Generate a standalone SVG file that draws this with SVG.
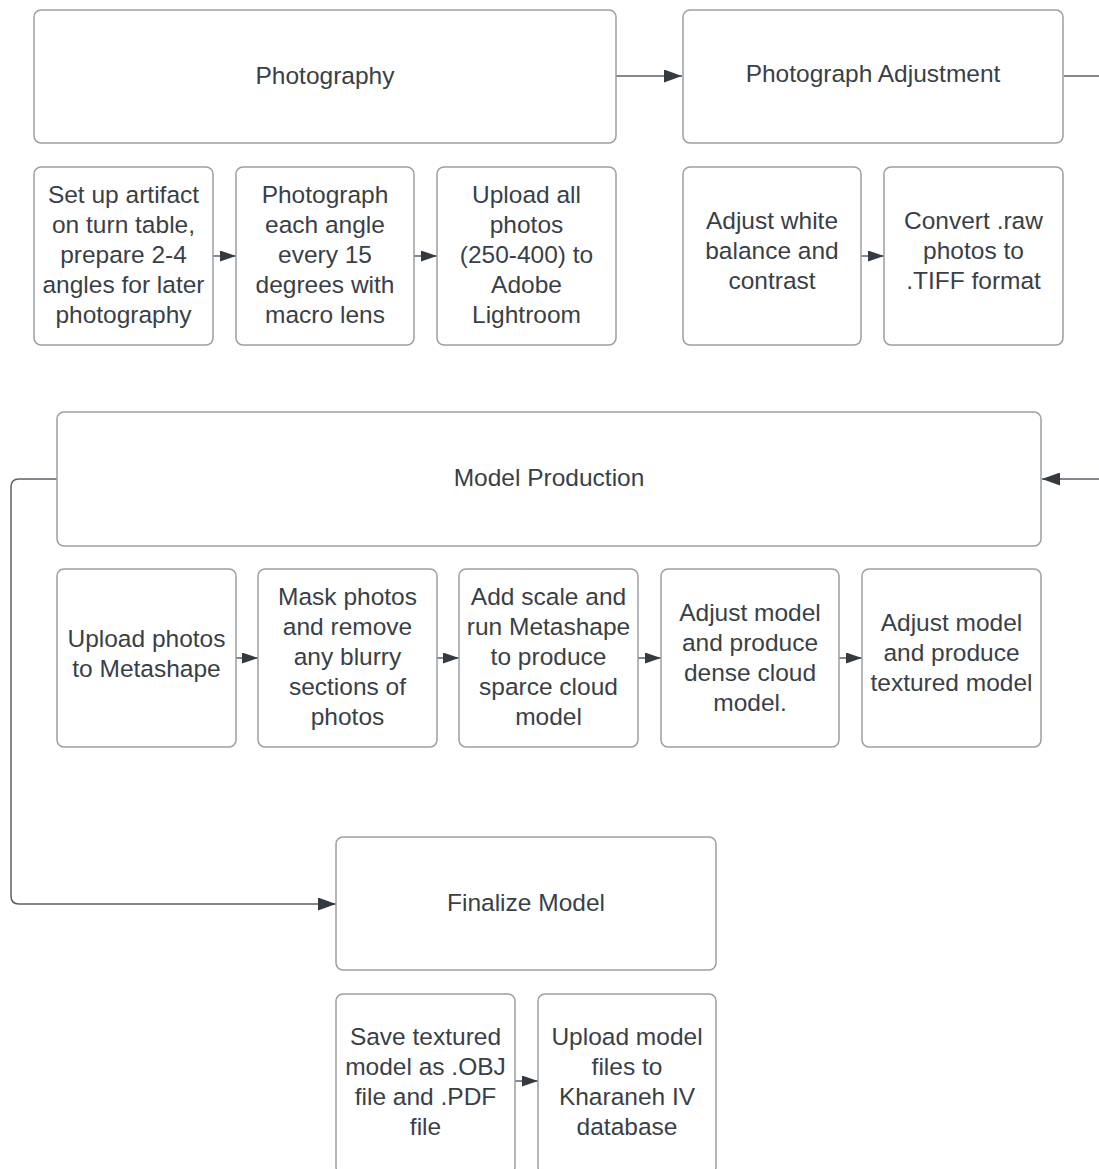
<svg xmlns="http://www.w3.org/2000/svg" width="1099" height="1169" viewBox="0 0 1099 1169">
<defs>
<style>
.box{fill:#ffffff;stroke:#9a9ea5;stroke-width:1.5}
.t{font-family:"Liberation Sans",Arial,sans-serif;font-size:24.5px;fill:#3a3f47;text-anchor:middle}
.c{fill:none;stroke:#5c6068;stroke-width:1.5}
</style>
<marker id="ah" markerUnits="userSpaceOnUse" markerWidth="18" markerHeight="13" refX="18" refY="6.5" orient="auto">
<path d="M0,0 L18,6.5 L0,13 Z" fill="#343a42"/>
</marker>
<marker id="as" markerUnits="userSpaceOnUse" markerWidth="16" markerHeight="11" refX="16" refY="5.5" orient="auto">
<path d="M0,0 L16,5.5 L0,11 Z" fill="#343a42"/>
</marker>
</defs>
<rect width="1099" height="1169" fill="#ffffff"/>
<g id="connectors">
<path class="c" d="M616,76 H682" marker-end="url(#ah)"/>
<path class="c" d="M1064,76 H1115 V479 H1042" marker-end="url(#ah)"/>
<path class="c" d="M57,479 H19 Q11,479 11,487 V896 Q11,904 19,904 H336" marker-end="url(#ah)"/>
<path class="c" d="M213,256 H236" marker-end="url(#as)"/>
<path class="c" d="M414,256 H437" marker-end="url(#as)"/>
<path class="c" d="M861,256 H884" marker-end="url(#as)"/>
<path class="c" d="M236,658 H258" marker-end="url(#as)"/>
<path class="c" d="M437,658 H459" marker-end="url(#as)"/>
<path class="c" d="M638,658 H661" marker-end="url(#as)"/>
<path class="c" d="M839,658 H862" marker-end="url(#as)"/>
<path class="c" d="M515,1081 H538" marker-end="url(#as)"/>
</g>
<g id="photography"><rect class="box" x="34" y="10" width="582" height="133" rx="7"/><text class="t" x="325" y="84">Photography</text></g>
<g id="photograph-adjustment"><rect class="box" x="683" y="10" width="380" height="133" rx="7"/><text class="t" x="873" y="82">Photograph Adjustment</text></g>
<g id="setup"><rect class="box" x="34" y="167" width="179" height="178" rx="7"/><text class="t" x="123.5" y="203">Set up artifact</text><text class="t" x="123.5" y="233">on turn table,</text><text class="t" x="123.5" y="263">prepare 2-4</text><text class="t" x="123.5" y="293">angles for later</text><text class="t" x="123.5" y="323">photography</text></g>
<g id="photograph-angle"><rect class="box" x="236" y="167" width="178" height="178" rx="7"/><text class="t" x="325" y="203">Photograph</text><text class="t" x="325" y="233">each angle</text><text class="t" x="325" y="263">every 15</text><text class="t" x="325" y="293">degrees with</text><text class="t" x="325" y="323">macro lens</text></g>
<g id="upload-lightroom"><rect class="box" x="437" y="167" width="179" height="178" rx="7"/><text class="t" x="526.5" y="203">Upload all</text><text class="t" x="526.5" y="233">photos</text><text class="t" x="526.5" y="263">(250-400) to</text><text class="t" x="526.5" y="293">Adobe</text><text class="t" x="526.5" y="323">Lightroom</text></g>
<g id="white-balance"><rect class="box" x="683" y="167" width="178" height="178" rx="7"/><text class="t" x="772" y="229">Adjust white</text><text class="t" x="772" y="259">balance and</text><text class="t" x="772" y="289">contrast</text></g>
<g id="convert-tiff"><rect class="box" x="884" y="167" width="179" height="178" rx="7"/><text class="t" x="973.5" y="229">Convert .raw</text><text class="t" x="973.5" y="259">photos to</text><text class="t" x="973.5" y="289">.TIFF format</text></g>
<g id="model-production"><rect class="box" x="57" y="412" width="984" height="134" rx="7"/><text class="t" x="549" y="486">Model Production</text></g>
<g id="upload-metashape"><rect class="box" x="57" y="569" width="179" height="178" rx="7"/><text class="t" x="146.5" y="647">Upload photos</text><text class="t" x="146.5" y="677">to Metashape</text></g>
<g id="mask-photos"><rect class="box" x="258" y="569" width="179" height="178" rx="7"/><text class="t" x="347.5" y="605">Mask photos</text><text class="t" x="347.5" y="635">and remove</text><text class="t" x="347.5" y="665">any blurry</text><text class="t" x="347.5" y="695">sections of</text><text class="t" x="347.5" y="725">photos</text></g>
<g id="sparce-cloud"><rect class="box" x="459" y="569" width="179" height="178" rx="7"/><text class="t" x="548.5" y="605">Add scale and</text><text class="t" x="548.5" y="635">run Metashape</text><text class="t" x="548.5" y="665">to produce</text><text class="t" x="548.5" y="695">sparce cloud</text><text class="t" x="548.5" y="725">model</text></g>
<g id="dense-cloud"><rect class="box" x="661" y="569" width="178" height="178" rx="7"/><text class="t" x="750" y="621">Adjust model</text><text class="t" x="750" y="651">and produce</text><text class="t" x="750" y="681">dense cloud</text><text class="t" x="750" y="711">model.</text></g>
<g id="textured-model"><rect class="box" x="862" y="569" width="179" height="178" rx="7"/><text class="t" x="951.5" y="631">Adjust model</text><text class="t" x="951.5" y="661">and produce</text><text class="t" x="951.5" y="691">textured model</text></g>
<g id="finalize-model"><rect class="box" x="336" y="837" width="380" height="133" rx="7"/><text class="t" x="526" y="911">Finalize Model</text></g>
<g id="save-obj"><rect class="box" x="336" y="994" width="179" height="180" rx="7"/><text class="t" x="425.5" y="1045">Save textured</text><text class="t" x="425.5" y="1075">model as .OBJ</text><text class="t" x="425.5" y="1105">file and .PDF</text><text class="t" x="425.5" y="1135">file</text></g>
<g id="upload-database"><rect class="box" x="538" y="994" width="178" height="180" rx="7"/><text class="t" x="627" y="1045">Upload model</text><text class="t" x="627" y="1075">files to</text><text class="t" x="627" y="1105">Kharaneh IV</text><text class="t" x="627" y="1135">database</text></g>
</svg>
